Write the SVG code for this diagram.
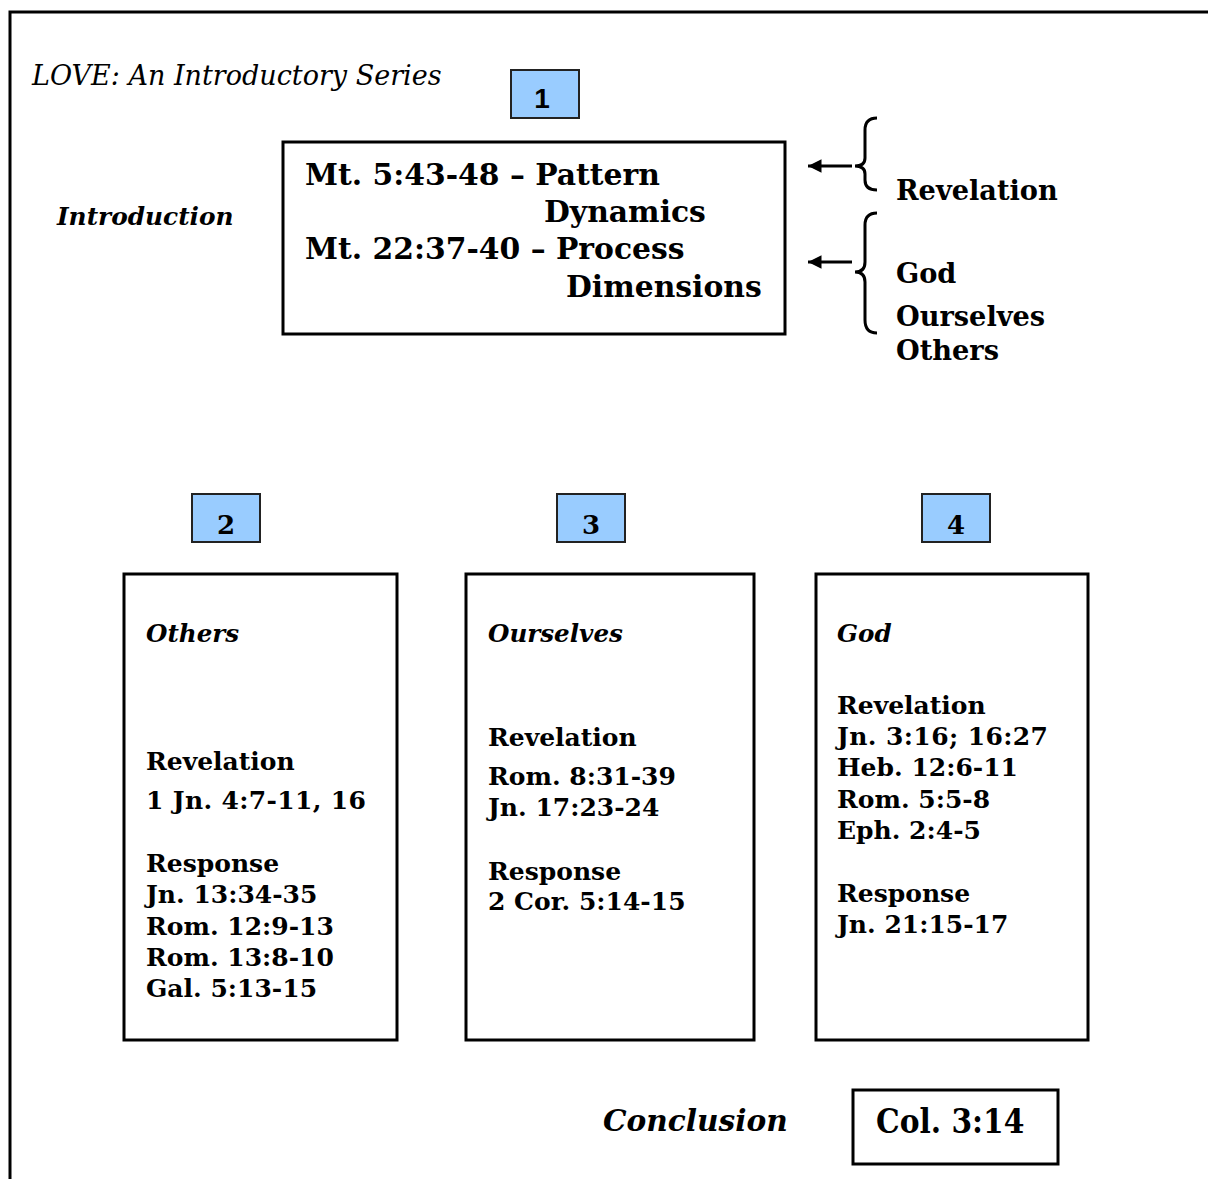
<svg xmlns="http://www.w3.org/2000/svg" width="1208" height="1179" viewBox="0 0 1208 1179">
<defs>
<style>
.b{font-family:"DejaVu Serif","Liberation Serif",serif;font-weight:bold;fill:#000}
.bi{font-family:"DejaVu Serif","Liberation Serif",serif;font-weight:bold;font-style:italic;fill:#000}
.it{font-family:"DejaVu Serif","Liberation Serif",serif;font-style:italic;fill:#000}
.sans{font-family:"Liberation Sans",Arial,sans-serif;font-weight:bold;fill:#000}
.box{fill:#fff;stroke:#000;stroke-width:3}
.num{fill:#99CCFF;stroke:#222;stroke-width:2}
.br{fill:none;stroke:#000;stroke-width:3}
</style>
<marker id="ah" viewBox="0 0 10 10" refX="10" refY="5" markerWidth="4.5" markerHeight="4.5" orient="auto" markerUnits="strokeWidth">
<path d="M0,0 L10,5 L0,10 z" fill="#000"/>
</marker>
</defs>
<rect width="1208" height="1179" fill="#fff"/>
<path d="M10,1179 V12 H1208" fill="none" stroke="#000" stroke-width="3"/>
<text class="it" x="32" y="85" font-size="27">LOVE: An Introductory Series</text>
<text class="bi" x="57" y="225" font-size="24.8">Introduction</text>

<g id="n1">
<rect class="num" x="511" y="70" width="68" height="48"/>
<text class="sans" x="542" y="108" font-size="28" text-anchor="middle">1</text>
</g>
<g id="main">
<rect class="box" x="283" y="142" width="502" height="192"/>
<text class="b" font-size="29.8"><tspan x="305" y="185">Mt. 5:43-48 – Pattern</tspan><tspan x="544" y="222">Dynamics</tspan><tspan x="305" y="259">Mt. 22:37-40 – Process</tspan><tspan x="566" y="297">Dimensions</tspan></text>
</g>
<g id="braces">
<path class="br" d="M877,118 Q865,118 865,130 V158 Q865,166 855,166 Q865,166 865,174 V180 Q865,190 877,190"/>
<path class="br" d="M877,213 Q865,213 865,225 V262 Q865,272 855,272 Q865,272 865,282 V320 Q865,333 877,333"/>
</g>
<g id="labels">
<text class="b" font-size="27.2"><tspan x="896" y="200">Revelation</tspan><tspan x="896" y="283">God</tspan><tspan x="896" y="326">Ourselves</tspan><tspan x="896" y="360">Others</tspan></text>
</g>

<g id="n2">
<rect class="num" x="192" y="494" width="68" height="48"/>
<text class="b" x="226" y="534" font-size="26" text-anchor="middle">2</text>
</g>
<g id="n3">
<rect class="num" x="557" y="494" width="68" height="48"/>
<text class="b" x="591" y="534" font-size="26" text-anchor="middle">3</text>
</g>
<g id="n4">
<rect class="num" x="922" y="494" width="68" height="48"/>
<text class="b" x="956" y="534" font-size="26" text-anchor="middle">4</text>
</g>

<g id="others">
<rect class="box" x="124" y="574" width="273" height="466"/>
<text class="bi" x="146" y="642" font-size="24.6">Others</text>
<text class="b" font-size="25"><tspan x="146" y="770">Revelation</tspan><tspan x="146" y="809" textLength="220">1 Jn. 4:7-11, 16</tspan><tspan x="146" y="872">Response</tspan><tspan x="146" y="903">Jn. 13:34-35</tspan><tspan x="146" y="935">Rom. 12:9-13</tspan><tspan x="146" y="966">Rom. 13:8-10</tspan><tspan x="146" y="997">Gal. 5:13-15</tspan></text>
</g>
<g id="ourselves">
<rect class="box" x="466" y="574" width="288" height="466"/>
<text class="bi" x="488" y="642" font-size="24.6">Ourselves</text>
<text class="b" font-size="25"><tspan x="488" y="746">Revelation</tspan><tspan x="488" y="785">Rom. 8:31-39</tspan><tspan x="488" y="816">Jn. 17:23-24</tspan><tspan x="488" y="880">Response</tspan><tspan x="488" y="910">2 Cor. 5:14-15</tspan></text>
</g>
<g id="god">
<rect class="box" x="816" y="574" width="272" height="466"/>
<text class="bi" x="837" y="642" font-size="24.6">God</text>
<text class="b" font-size="25"><tspan x="837" y="714">Revelation</tspan><tspan x="837" y="745" textLength="211">Jn. 3:16; 16:27</tspan><tspan x="837" y="776">Heb. 12:6-11</tspan><tspan x="837" y="808">Rom. 5:5-8</tspan><tspan x="837" y="839">Eph. 2:4-5</tspan><tspan x="837" y="902">Response</tspan><tspan x="837" y="933">Jn. 21:15-17</tspan></text>
</g>

<text class="bi" x="603" y="1131" font-size="29.6">Conclusion</text>
<g id="col">
<rect class="box" x="853" y="1090" width="205" height="74"/>
<text x="876" y="1133" font-family="'DejaVu Serif Condensed','DejaVu Serif',serif" font-weight="bold" font-size="33">Col. 3:14</text>
</g>

<g id="connectors">
<line x1="852" y1="166" x2="808" y2="166" stroke="#000" stroke-width="3" marker-end="url(#ah)"/>
<line x1="852" y1="262" x2="808" y2="262" stroke="#000" stroke-width="3" marker-end="url(#ah)"/>
</g>
</svg>
